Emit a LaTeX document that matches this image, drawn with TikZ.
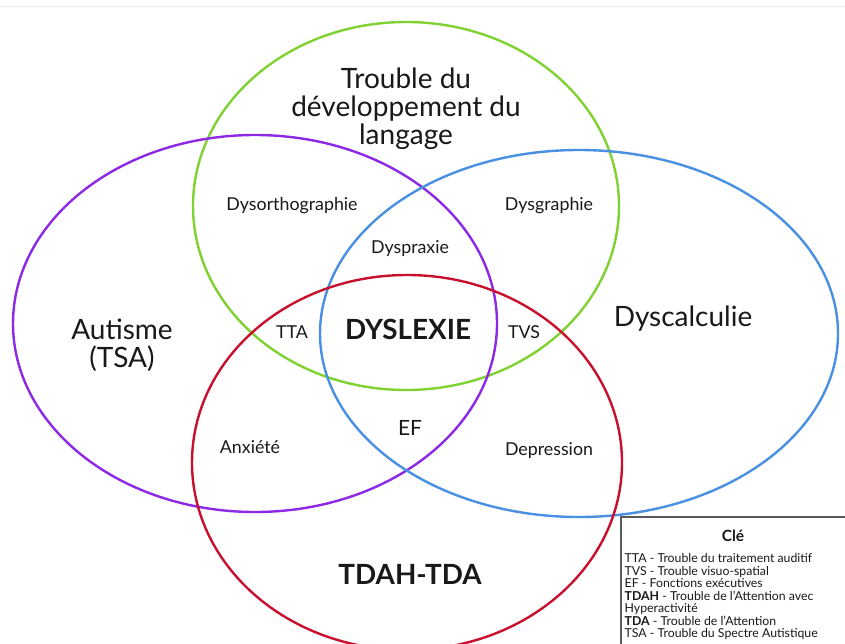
\documentclass[tikz,border=0pt]{standalone}
\usepackage{fontspec}
\setmainfont{Lato}
\definecolor{vgreen}{RGB}{128,210,50}
\definecolor{vpurple}{RGB}{140,40,230}
\definecolor{vblue}{RGB}{74,144,226}
\definecolor{vred}{RGB}{200,16,46}
\definecolor{keygray}{RGB}{90,90,90}
\tikzset{
  setring/.style={line width=2.4pt},
  biglabel/.style={font=\fontsize{28}{28}\selectfont, align=center, text=black!90},
  smalllabel/.style={font=\fontsize{17.8}{20}\selectfont, text=black!90},
  boldlabel/.style={font=\fontsize{27.8}{30}\selectfont\bfseries, text=black!90},
}
\begin{document}
\begin{tikzpicture}[x=1pt,y=-1pt]
\useasboundingbox (0,0) rectangle (845,644);
\fill[white] (0,0) rectangle (845,644);
\draw[black!7,line width=1pt] (0,7) -- (845,7);
% sets
\draw[setring,vgreen] (406,206) ellipse [x radius=213, y radius=184];
\draw[setring,vpurple] (255,323.5) ellipse [x radius=242, y radius=188.5];
\draw[setring,vblue] (579,333.5) ellipse [x radius=259, y radius=183.5];
\draw[setring,vred] (407,462.5) ellipse [x radius=215, y radius=187.5];
% main labels
\node[biglabel] (tdl) at (406,109) {Trouble du\\développement du\\langage};
\node[biglabel] (tsa) at (122,345.5) {Autisme\\(TSA)};
\node[biglabel] (dysc) at (683,318.5) {Dyscalculie};
\node[boldlabel] (tdah) at (410,574.5) {TDAH-TDA};
\node[boldlabel] (dysl) at (408,329.5) {DYSLEXIE};
% small labels
\node[smalllabel] (dyso) at (292,205.5) {Dysorthographie};
\node[smalllabel] (dysg) at (549,205.5) {Dysgraphie};
\node[smalllabel] (dysp) at (410,248.5) {Dyspraxie};
\node[smalllabel] (tta) at (292,332) {TTA};
\node[smalllabel] (tvs) at (524,332) {TVS};
\node[smalllabel,font=\fontsize{21}{24}\selectfont] (ef) at (410,428) {EF};
\node[smalllabel] (anx) at (250,447.5) {Anxiété};
\node[smalllabel] (dep) at (549,450.5) {Depression};
% key
\draw[keygray,line width=1.2pt,fill=white] (621,517) rectangle (850,652);
\node[font=\fontsize{15.5}{18}\selectfont\bfseries, text=black!90] (cle) at (733,535.5) {Clé};
\node[anchor=north west, inner sep=0pt, align=left, text=black!90,
      font=\fontsize{12.3}{12.5}\selectfont] (keytext) at (624.5,553.5)
  {TTA - Trouble du traitement auditif\\
   TVS - Trouble visuo-spatial\\
   EF - Fonctions exécutives\\
   \textbf{TDAH} - Trouble de l'Attention avec\\
   Hyperactivité\\
   \textbf{TDA} - Trouble de l'Attention\\
   TSA - Trouble du Spectre Autistique};
\end{tikzpicture}
\end{document}
